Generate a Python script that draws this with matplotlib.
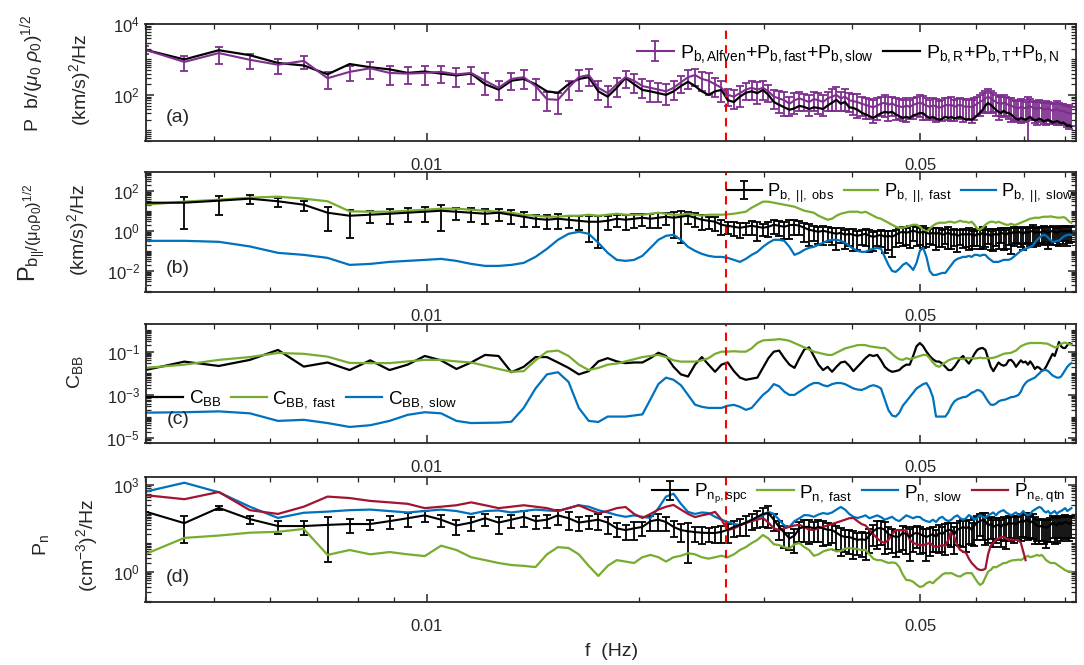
import numpy as np
import matplotlib.pyplot as plt
from matplotlib.ticker import FixedLocator, FixedFormatter, NullFormatter

plt.rcParams['font.family'] = ['Liberation Sans', 'DejaVu Sans']
plt.rcParams['mathtext.fontset'] = 'custom'
plt.rcParams['mathtext.rm'] = 'Liberation Sans'
plt.rcParams['mathtext.it'] = 'Liberation Sans:italic'
plt.rcParams['mathtext.bf'] = 'Liberation Sans:bold'

# frequency bins (Hz), linear spacing
f0 = 0.0040
df = 0.00054
n_bins = 145
freq = f0 + df * np.arange(n_bins)
f_split = 0.0265

# ---- panel (a): log10 of spectra ----
pb_modes = [
    3.27, 2.93, 3.18, 2.99, 2.85, 2.96, 2.47, 2.65, 2.75, 2.62,
    2.60, 2.62, 2.65, 2.58, 2.62, 2.40, 2.20, 2.45, 2.50, 2.25,
    1.88, 1.86, 2.20, 2.50, 2.56, 2.20, 2.05, 2.30, 2.50, 2.40,
    2.25, 2.20, 2.15, 2.10, 2.20, 2.35, 2.50, 2.56, 2.45, 2.40,
    2.30, 2.20, 2.00, 1.95, 2.05, 2.15, 2.20, 2.15, 2.20, 2.10,
    1.95, 1.90, 1.85, 1.75, 1.85, 1.90, 1.85, 1.80, 1.88, 1.85,
    1.80, 1.90, 1.95, 2.00, 1.90, 1.95, 1.85, 1.82, 1.80, 1.75,
    1.72, 1.68, 1.65, 1.70, 1.75, 1.78, 1.72, 1.76, 1.70, 1.68,
    1.65, 1.70, 1.66, 1.72, 1.75, 1.78, 1.74, 1.70, 1.66, 1.70,
    1.68, 1.64, 1.66, 1.72, 1.70, 1.72, 1.66, 1.70, 1.72, 1.68,
    1.66, 1.68, 1.65, 1.70, 1.75, 1.80, 1.85, 1.90, 1.95, 1.90,
    1.85, 1.80, 1.76, 1.74, 1.78, 1.75, 1.72, 1.70, 1.66, 1.64,
    1.62, 1.66, 1.64, 1.62, 1.66, 1.68, 1.64, 1.60, 1.62, 1.64,
    1.62, 1.58, 1.60, 1.62, 1.58, 1.55, 1.58, 1.60, 1.56, 1.54,
    1.55, 1.52, 1.48, 1.50, 1.46]
pb_modes_err = [
    0.25, 0.45, 0.50, 0.45, 0.45, 0.40, 0.50, 0.45, 0.50, 0.55,
    0.50, 0.55, 0.50, 0.55, 0.50, 0.60, 0.55, 0.50, 0.55, 0.60,
    0.55, 0.60, 0.55, 0.60, 0.50, 0.55, 0.60, 0.55, 0.50, 0.55,
    0.55, 0.60, 0.55, 0.60, 0.55, 0.50, 0.55, 0.50, 0.55, 0.60,
    0.55, 0.60, 0.50, 0.55, 0.60, 0.50, 0.55, 0.60, 0.55, 0.50,
    0.55, 0.60, 0.65, 0.55, 0.60, 0.55, 0.50, 0.60, 0.55, 0.60,
    0.60, 0.55, 0.60, 0.65, 0.55, 0.60, 0.55, 0.60, 0.65, 0.55,
    0.60, 0.55, 0.65, 0.60, 0.55, 0.60, 0.65, 0.55, 0.60, 0.55,
    0.60, 0.65, 0.55, 0.60, 0.55, 0.60, 0.65, 0.60, 0.55, 0.60,
    0.65, 0.55, 0.60, 0.55, 0.60, 0.65, 0.60, 0.55, 0.60, 0.65,
    0.55, 0.60, 0.65, 0.60, 0.55, 0.60, 0.55, 0.60, 0.65, 0.60,
    0.55, 0.60, 0.65, 0.55, 0.60, 0.55, 0.60, 0.65, 0.60, 0.55,
    0.60, 0.65, 0.60, 0.55, 0.92, 0.60, 0.55, 0.60, 0.65, 0.60,
    0.55, 0.60, 0.65, 0.55, 0.60, 0.55, 0.60, 0.65, 0.60, 0.55,
    0.60, 0.55, 0.60, 0.65, 0.55]
pb_rtn = [
    3.27, 3.00, 3.26, 3.12, 2.90, 2.83, 2.58, 2.87, 2.78, 2.72,
    2.62, 2.66, 2.60, 2.55, 2.60, 2.30, 2.15, 2.40, 2.45, 2.30,
    2.10, 2.06, 2.30, 2.45, 2.50, 2.10, 1.95, 2.20, 2.48, 2.30,
    2.14, 2.10, 2.05, 2.00, 2.10, 2.25, 2.37, 2.25, 2.10, 2.00,
    2.10, 2.14, 1.85, 1.80, 1.95, 2.06, 2.10, 2.05, 2.14, 2.00,
    1.80, 1.72, 1.65, 1.58, 1.62, 1.69, 1.66, 1.60, 1.65, 1.63,
    1.60, 1.70, 1.78, 1.86, 1.75, 1.80, 1.65, 1.63, 1.58, 1.50,
    1.45, 1.40, 1.35, 1.42, 1.48, 1.52, 1.50, 1.52, 1.45, 1.40,
    1.35, 1.38, 1.35, 1.42, 1.45, 1.49, 1.48, 1.40, 1.35, 1.38,
    1.33, 1.30, 1.32, 1.38, 1.35, 1.38, 1.33, 1.36, 1.38, 1.34,
    1.30, 1.32, 1.30, 1.35, 1.42, 1.50, 1.58, 1.70, 1.77, 1.72,
    1.65, 1.58, 1.52, 1.49, 1.55, 1.50, 1.49, 1.45, 1.38, 1.33,
    1.30, 1.35, 1.32, 1.30, 1.34, 1.38, 1.32, 1.28, 1.30, 1.33,
    1.30, 1.25, 1.28, 1.30, 1.26, 1.22, 1.24, 1.26, 1.24, 1.20,
    1.22, 1.18, 1.12, 1.15, 1.10]

# ---- panel (b) ----
pb_par_obs = [
    1.40, 1.40, 1.50, 1.60, 1.47, 1.30, 0.90, 0.75, 0.80, 0.85,
    0.90, 0.95, 1.00, 0.95, 0.90, 0.85, 0.90, 0.80, 0.70, 0.60,
    0.55, 0.60, 0.55, 0.50, 0.45, 0.45, 0.50, 0.60, 0.55, 0.60,
    0.65, 0.60, 0.65, 0.70, 0.65, 0.70, 0.75, 0.65, 0.55, 0.50,
    0.45, 0.30, 0.25, 0.20, 0.15, 0.20, 0.25, 0.20, 0.15, 0.20,
    0.30, 0.25, 0.20, 0.28, 0.30, 0.25, 0.15, 0.05, 0.00, -0.05,
    0.00, -0.05, -0.10, -0.15, -0.10, -0.20, -0.15, -0.20, -0.25, -0.20,
    -0.15, -0.25, -0.30, -0.25, -0.20, -0.30, -0.25, -0.30, -0.20, -0.10,
    -0.05, -0.10, -0.05, 0.00, -0.05, -0.10, -0.05, -0.10, -0.15, -0.10,
    -0.15, -0.10, -0.20, -0.15, -0.10, -0.20, -0.15, -0.25, -0.20, -0.15,
    -0.20, -0.15, -0.20, -0.25, -0.15, -0.20, -0.10, -0.20, -0.15, -0.25,
    -0.20, -0.15, -0.20, -0.10, -0.15, -0.20, -0.10, -0.15, -0.05, -0.10,
    -0.05, -0.10, -0.15, -0.05, -0.10, -0.05, 0.00, -0.10, -0.05, -0.10,
    -0.05, 0.00, -0.05, -0.10, -0.05, 0.00, -0.05, -0.10, -0.05, 0.00,
    -0.05, 0.00, -0.05, 0.00, -0.05]
pb_par_err = [
    0.00, 0.95, 0.80, 0.45, 0.50, 0.50, 0.88, 0.92, 0.60, 0.70,
    0.65, 0.70, 0.90, 0.60, 0.65, 0.70, 0.60, 0.65, 0.70, 0.60,
    0.65, 0.70, 0.60, 0.65, 0.90, 0.95, 0.65, 0.60, 0.70, 0.65,
    0.60, 0.65, 0.70, 0.60, 0.90, 0.95, 0.60, 0.65, 0.70, 0.60,
    0.65, 0.70, 0.60, 0.65, 0.70, 0.60, 0.65, 0.80, 0.60, 0.70,
    0.65, 0.70, 0.75, 0.80, 0.70, 0.65, 0.80, 0.85, 0.70, 0.75,
    0.80, 0.70, 0.75, 0.85, 0.70, 0.80, 0.75, 0.85, 0.80, 0.70,
    0.75, 0.85, 0.80, 0.70, 0.75, 0.85, 0.80, 0.90, 0.75, 0.70,
    0.80, 0.75, 0.85, 0.70, 0.80, 0.75, 0.85, 0.80, 0.70, 0.75,
    0.85, 0.80, 0.75, 0.70, 0.85, 0.80, 0.75, 0.85, 0.70, 0.80,
    0.75, 0.85, 0.80, 0.70, 0.75, 0.80, 0.85, 0.75, 0.70, 0.80,
    0.85, 0.75, 0.80, 0.70, 0.85, 0.80, 0.75, 0.90, 0.80, 0.70,
    0.75, 0.80, 0.85, 0.75, 0.70, 0.80, 0.85, 0.75, 0.80, 0.70,
    0.75, 0.80, 0.70, 0.85, 0.75, 0.80, 0.70, 0.75, 0.80, 0.70,
    0.75, 0.70, 0.80, 0.75, 0.70]
pb_par_fast = [
    1.30, 1.45, 1.55, 1.65, 1.70, 1.60, 1.47, 0.97, 0.95, 0.95,
    1.00, 1.05, 1.10, 1.10, 1.05, 1.00, 0.95, 0.90, 0.80, 0.75,
    0.70, 0.70, 0.75, 0.75, 0.80, 0.75, 0.80, 0.85, 0.80, 0.80,
    0.80, 0.85, 0.90, 0.85, 0.80, 0.80, 0.85, 0.80, 0.75, 0.80,
    0.80, 0.80, 0.82, 0.85, 0.90, 0.95, 1.15, 1.30, 1.45, 1.45,
    1.40, 1.35, 1.30, 1.25, 1.20, 1.10, 1.00, 0.95, 0.90, 0.75,
    0.65, 0.55, 0.60, 0.75, 0.85, 0.90, 0.95, 0.95, 0.95, 0.90,
    0.95, 0.85, 0.75, 0.65, 0.60, 0.50, 0.40, 0.30, 0.20, 0.15,
    0.15, 0.20, 0.25, 0.30, 0.30, 0.20, 0.05, -0.05, 0.10, 0.25,
    0.35, 0.40, 0.40, 0.40, 0.45, 0.45, 0.40, 0.45, 0.50, 0.45,
    0.45, 0.40, 0.45, 0.30, 0.10, 0.05, 0.15, 0.30, 0.40, 0.45,
    0.45, 0.40, 0.45, 0.40, 0.35, 0.30, 0.30, 0.35, 0.30, 0.30,
    0.35, 0.40, 0.45, 0.50, 0.55, 0.60, 0.62, 0.65, 0.65, 0.65,
    0.68, 0.70, 0.70, 0.70, 0.72, 0.70, 0.68, 0.66, 0.65, 0.66,
    0.68, 0.65, 0.55, 0.45, 0.40]
pb_par_slow = [
    -0.50, -0.50, -0.55, -0.78, -1.10, -1.20, -1.35, -1.70, -1.65, -1.55,
    -1.50, -1.45, -1.40, -1.50, -1.65, -1.75, -1.75, -1.70, -1.60, -1.30,
    -0.90, -0.45, -0.15, -0.05, -0.15, -0.60, -1.10, -1.45, -1.50, -1.45,
    -1.25, -0.85, -0.45, -0.25, -0.20, -0.45, -0.80, -1.00, -1.15, -1.25,
    -1.30, -1.30, -1.35, -1.45, -1.55, -1.40, -1.20, -1.05, -0.80, -0.60,
    -0.45, -0.45, -0.50, -0.80, -1.20, -1.10, -0.95, -0.85, -0.80, -0.70,
    -0.60, -0.50, -0.45, -0.45, -0.50, -0.60, -0.75, -0.90, -1.00, -1.05,
    -1.05, -0.95, -0.90, -0.85, -0.90, -1.30, -1.70, -2.00, -2.05, -1.90,
    -1.70, -1.60, -1.75, -1.95, -1.60, -1.00, -0.85, -1.30, -2.00, -2.20,
    -2.20, -2.15, -2.10, -2.10, -1.90, -1.70, -1.50, -1.40, -1.35, -1.30,
    -1.30, -1.25, -1.30, -1.20, -1.20, -1.25, -1.20, -1.20, -1.35, -1.45,
    -1.55, -1.55, -1.55, -1.50, -1.45, -1.45, -1.45, -1.40, -1.30, -1.20,
    -1.10, -1.00, -0.95, -0.90, -0.85, -0.80, -0.75, -0.60, -0.45, -0.35,
    -0.25, -0.20, -0.25, -0.35, -0.45, -0.55, -0.55, -0.50, -0.50, -0.40,
    -0.30, -0.25, -0.20, -0.20, -0.20]

# ---- panel (c) ----
cbb = [
    -1.85, -1.46, -1.66, -1.38, -0.92, -1.69, -1.50, -1.85, -1.40, -1.85,
    -1.60, -1.20, -1.40, -1.80, -1.50, -1.15, -1.20, -1.95, -1.70, -1.25,
    -1.25, -1.50, -1.75, -2.05, -1.90, -1.45, -1.30, -1.45, -1.53, -1.50,
    -1.50, -1.30, -1.05, -1.20, -1.70, -2.05, -2.15, -1.60, -1.25, -1.60,
    -1.93, -1.60, -1.50, -1.90, -2.20, -2.30, -2.25, -2.20, -1.75, -1.30,
    -1.00, -0.95, -1.30, -1.60, -1.75, -1.30, -0.90, -0.80, -1.20, -1.60,
    -1.85, -1.70, -1.93, -1.70, -1.50, -1.46, -1.65, -1.90, -1.70, -1.50,
    -1.30, -1.15, -1.20, -1.15, -1.40, -1.70, -1.85, -1.93, -1.90, -1.85,
    -1.70, -1.60, -1.60, -1.20, -0.75, -0.60, -0.75, -1.00, -1.20, -1.35,
    -1.45, -1.46, -1.55, -1.70, -1.85, -1.85, -1.70, -1.50, -1.30, -1.20,
    -1.40, -1.55, -1.35, -1.10, -0.92, -0.85, -0.83, -0.92, -1.30, -1.70,
    -1.90, -1.70, -1.50, -1.60, -1.65, -1.60, -1.40, -1.38, -1.50, -1.70,
    -1.55, -1.40, -1.50, -1.46, -1.60, -1.45, -1.60, -1.80, -1.70, -1.75,
    -1.85, -1.85, -1.70, -1.50, -1.30, -1.10, -1.20, -0.90, -0.55, -0.75,
    -0.83, -0.83, -0.70, -0.60, -0.65]
cbb_fast = [
    -1.75, -1.60, -1.38, -1.25, -1.06, -1.10, -1.23, -1.52, -1.53, -1.53,
    -1.45, -1.38, -1.38, -1.45, -1.50, -1.65, -1.80, -1.93, -1.90, -1.40,
    -1.00, -0.95, -1.20, -1.60, -1.85, -1.75, -1.60, -1.55, -1.45, -1.35,
    -1.25, -1.20, -1.15, -1.25, -1.40, -1.46, -1.46, -1.46, -1.40, -1.30,
    -1.10, -1.00, -1.00, -0.98, -1.00, -1.00, -0.85, -0.60, -0.48, -0.46,
    -0.45, -0.42, -0.45, -0.50, -0.60, -0.70, -0.80, -0.90, -1.00, -1.05,
    -1.10, -1.15, -1.15, -1.05, -0.95, -0.85, -0.80, -0.75, -0.70, -0.69,
    -0.70, -0.75, -0.78, -0.80, -0.83, -0.83, -0.95, -1.10, -1.25, -1.35,
    -1.38, -1.30, -1.35, -1.30, -1.25, -1.20, -1.15, -1.15, -1.30, -1.50,
    -1.65, -1.70, -1.60, -1.50, -1.40, -1.35, -1.30, -1.30, -1.32, -1.35,
    -1.30, -1.30, -1.30, -1.32, -1.30, -1.28, -1.30, -1.30, -1.30, -1.30,
    -1.28, -1.25, -1.20, -1.15, -1.10, -1.08, -1.07, -1.05, -1.00, -0.95,
    -0.85, -0.75, -0.70, -0.65, -0.62, -0.60, -0.60, -0.60, -0.60, -0.60,
    -0.60, -0.62, -0.62, -0.65, -0.70, -0.75, -0.80, -0.80, -0.70, -0.65,
    -0.60, -0.58, -0.62, -0.65, -0.68]
cbb_slow = [
    -3.82, -3.80, -3.76, -3.85, -4.20, -4.15, -4.30, -4.48, -4.40, -4.20,
    -3.92, -3.80, -3.85, -4.20, -4.30, -4.29, -4.28, -4.24, -3.60, -2.70,
    -2.05, -1.95, -2.40, -3.60, -4.20, -4.25, -4.00, -4.00, -4.00, -3.95,
    -3.90, -3.20, -2.50, -2.20, -2.30, -2.55, -3.00, -3.45, -3.55, -3.60,
    -3.60, -3.60, -3.50, -3.46, -3.55, -3.69, -3.60, -3.30, -3.00, -2.80,
    -2.50, -2.60, -2.85, -3.00, -3.00, -2.85, -2.70, -2.55, -2.45, -2.45,
    -2.55, -2.60, -2.50, -2.45, -2.45, -2.50, -2.60, -2.70, -2.75, -2.77,
    -2.70, -2.60, -2.55, -2.60, -2.70, -3.20, -3.70, -3.95, -4.00, -3.83,
    -3.50, -3.30, -3.10, -2.90, -2.70, -2.60, -2.50, -2.45, -2.70, -3.10,
    -4.00, -4.00, -4.00, -4.00, -3.80, -3.50, -3.30, -3.20, -3.15, -3.10,
    -3.09, -3.00, -2.90, -2.85, -2.77, -2.80, -2.90, -3.10, -3.30, -3.45,
    -3.46, -3.40, -3.30, -3.25, -3.23, -3.20, -3.15, -3.10, -3.09, -3.05,
    -3.00, -2.85, -2.60, -2.45, -2.35, -2.30, -2.25, -2.20, -2.10, -2.00,
    -1.90, -1.85, -1.85, -1.90, -2.00, -2.10, -2.15, -2.20, -2.20, -2.15,
    -2.00, -1.85, -1.70, -1.60, -1.53]

# ---- panel (d) ----
pn_spc = [
    2.08, 1.68, 2.21, 1.82, 1.58, 1.58, 1.62, 1.65, 1.65, 1.75,
    1.85, 1.95, 1.80, 1.60, 1.70, 1.85, 1.70, 1.80, 1.90, 1.75,
    1.80, 1.95, 1.85, 1.70, 1.75, 1.80, 1.70, 1.50, 1.44, 1.50,
    1.55, 1.75, 1.80, 1.72, 1.55, 1.44, 1.40, 1.37, 1.35, 1.34,
    1.34, 1.38, 1.45, 1.55, 1.62, 1.70, 1.79, 1.90, 2.00, 2.03,
    1.80, 1.55, 1.35, 1.15, 1.25, 1.50, 1.55, 1.55, 1.50, 1.55,
    1.50, 1.45, 1.44, 1.35, 1.25, 1.20, 1.20, 1.15, 1.10, 1.12,
    1.10, 1.25, 1.40, 1.50, 1.51, 1.45, 1.30, 1.25, 1.20, 1.22,
    1.35, 1.30, 1.20, 1.30, 1.35, 1.30, 1.25, 1.20, 1.25, 1.30,
    1.20, 1.35, 1.30, 1.40, 1.45, 1.44, 1.30, 1.45, 1.50, 1.55,
    1.50, 1.55, 1.45, 1.60, 1.70, 1.75, 1.79, 1.75, 1.60, 1.65,
    1.55, 1.60, 1.62, 1.55, 1.65, 1.60, 1.70, 1.65, 1.68, 1.65,
    1.70, 1.75, 1.72, 1.78, 1.79, 1.70, 1.75, 1.65, 1.60, 1.55,
    1.60, 1.55, 1.52, 1.55, 1.62, 1.70, 1.65, 1.60, 1.70, 1.65,
    1.68, 1.72, 1.70, 1.65, 1.70]
pn_spc_err = [
    0.00, 0.80, 0.15, 0.30, 0.45, 0.50, 0.95, 0.50, 0.40, 0.45,
    0.50, 0.40, 0.45, 0.55, 0.50, 0.45, 0.60, 0.50, 0.55, 0.45,
    0.50, 0.55, 0.60, 0.50, 0.45, 0.55, 0.60, 0.50, 0.55, 0.60,
    0.50, 0.55, 0.60, 0.50, 0.55, 0.60, 0.92, 0.55, 0.60, 0.50,
    0.55, 0.60, 0.65, 0.55, 0.60, 0.65, 0.55, 0.60, 0.65, 0.70,
    0.60, 0.65, 0.70, 0.60, 0.75, 0.65, 0.70, 0.75, 0.65, 0.70,
    0.75, 0.70, 0.65, 0.75, 0.80, 0.70, 0.75, 0.80, 0.70, 0.75,
    0.80, 0.75, 0.70, 0.80, 0.75, 0.85, 0.70, 0.75, 0.80, 0.70,
    0.75, 0.80, 0.85, 0.75, 0.70, 0.80, 0.75, 0.85, 0.80, 0.75,
    0.70, 0.80, 0.75, 0.85, 0.70, 0.75, 0.80, 0.70, 0.75, 0.80,
    0.85, 0.75, 0.70, 0.80, 0.75, 0.70, 0.80, 0.85, 0.75, 0.70,
    0.80, 0.75, 0.70, 0.80, 0.75, 0.85, 0.70, 0.75, 0.80, 0.70,
    0.75, 0.80, 0.70, 0.75, 0.80, 0.70, 0.75, 0.80, 0.70, 0.75,
    0.70, 0.75, 0.80, 0.70, 0.75, 0.70, 0.80, 0.75, 0.70, 0.75,
    0.70, 0.75, 0.70, 0.75, 0.70]
pn_fast = [
    0.61, 1.17, 1.25, 1.35, 1.38, 1.48, 0.58, 0.75, 0.60, 0.68,
    0.60, 0.54, 0.90, 0.75, 0.50, 0.40, 0.30, 0.23, 0.20, 0.16,
    0.60, 0.85, 0.82, 0.60, 0.20, -0.15, 0.20, 0.40, 0.35, 0.30,
    0.50, 0.58, 0.50, 0.35, 0.50, 0.55, 0.64, 0.60, 0.50, 0.45,
    0.50, 0.55, 0.50, 0.60, 0.75, 0.85, 0.99, 1.10, 1.27, 1.15,
    0.95, 0.92, 0.85, 0.80, 0.95, 0.99, 0.85, 0.75, 0.55, 0.60,
    0.70, 0.75, 0.78, 0.70, 0.72, 0.80, 0.82, 0.80, 0.78, 0.75,
    0.75, 0.60, 0.45, 0.40, 0.40, 0.35, 0.30, 0.32, 0.30, 0.16,
    -0.10, -0.29, -0.30, -0.35, -0.45, -0.53, -0.50, -0.40, -0.35, -0.40,
    -0.29, -0.20, -0.10, -0.05, -0.06, -0.05, -0.10, -0.15, -0.17, -0.10,
    -0.05, -0.05, -0.05, -0.20, -0.35, -0.46, -0.40, -0.20, 0.00, 0.06,
    0.16, 0.15, 0.20, 0.25, 0.30, 0.30, 0.35, 0.38, 0.40, 0.40,
    0.42, 0.40, 0.45, 0.50, 0.55, 0.50, 0.52, 0.55, 0.58, 0.55,
    0.58, 0.50, 0.40, 0.35, 0.30, 0.30, 0.30, 0.25, 0.20, 0.15,
    0.10, 0.05, 0.02, 0.00, 0.00]
pn_slow = [
    2.77, 3.08, 2.75, 2.25, 1.86, 2.04, 2.08, 2.13, 2.15, 2.10,
    2.05, 2.10, 2.15, 2.10, 2.00, 2.10, 2.12, 2.05, 2.10, 2.15,
    2.12, 2.10, 2.20, 2.30, 2.25, 2.13, 2.05, 1.96, 1.90, 1.95,
    1.90, 1.86, 2.20, 2.60, 2.70, 2.35, 2.07, 2.00, 2.05, 2.03,
    1.90, 1.80, 1.72, 1.65, 1.62, 1.70, 1.80, 1.86, 1.95, 2.07,
    2.00, 1.80, 1.60, 1.55, 1.75, 1.85, 1.96, 1.95, 1.90, 1.98,
    2.03, 2.00, 2.05, 2.15, 2.24, 2.15, 2.00, 1.90, 1.86, 1.90,
    1.95, 1.85, 1.90, 1.95, 1.89, 1.80, 1.85, 1.90, 1.80, 1.75,
    1.85, 1.95, 1.90, 1.85, 1.90, 1.89, 1.80, 1.75, 1.72, 1.80,
    1.72, 1.85, 1.90, 1.80, 1.75, 1.80, 1.90, 1.95, 1.85, 1.80,
    1.85, 1.96, 1.90, 1.80, 1.86, 1.95, 1.90, 1.86, 1.95, 2.00,
    2.05, 1.95, 2.05, 2.10, 2.13, 2.05, 2.00, 1.95, 2.00, 2.05,
    1.96, 2.00, 2.10, 2.00, 1.95, 2.00, 2.10, 2.15, 2.20, 2.24,
    2.20, 2.10, 2.05, 2.10, 2.00, 2.05, 2.10, 2.00, 2.07, 2.10,
    2.15, 2.20, 2.10, 2.15, 2.20]
pn_qtn = [
    2.65, 2.51, 2.76, 2.13, 2.00, 2.25, 2.60, 2.55, 2.45, 2.40,
    2.35, 2.20, 2.25, 2.30, 2.40, 2.30, 2.20, 2.25, 2.30, 2.25,
    2.20, 2.10, 2.20, 2.30, 2.15, 2.03, 2.10, 2.20, 2.24, 2.00,
    1.86, 2.00, 2.15, 2.25, 2.31, 2.15, 2.00, 1.89, 1.95, 2.00,
    2.07, 1.80, 1.44, 1.50, 1.60, 1.68, 1.75, 1.80, 1.86, 1.70,
    1.50, 1.44, 1.50, 1.55, 1.60, 1.62, 1.55, 1.45, 1.45, 1.50,
    1.55, 1.60, 1.65, 1.70, 1.75, 1.80, 1.85, 1.86, 1.75, 1.65,
    1.60, 1.45, 1.30, 1.15, 1.05, 0.99, 1.10, 1.30, 1.44, 1.44,
    1.42, 1.44, 1.10, 1.00, 0.95, 0.92, 0.92, 0.95, 1.00, 0.90,
    0.85, 0.88, 0.92, 0.90, 1.10, 1.44, 1.20, 0.90, 0.75, 0.70,
    0.65, 0.45, 0.30, 0.20, 0.10, 0.06, 0.06, 0.10, 0.60, 0.90,
    0.99, 1.10, 1.15, 1.20, 1.20, 1.15, 1.10, 1.12, 1.10, 1.10,
    1.10, 1.00, 0.70, 0.40]

purple = '#7E2F8E'
green = '#77AC30'
blue = '#0072BD'
red = '#A2142F'
fs = 13


def lin(v):
    return 10 ** np.array(v)


def ebar(ax, vals, rel, color, label):
    y = lin(vals)
    return ax.errorbar(freq[:len(y)], y, yerr=np.array(rel) * y, color=color, lw=1.5,
                       elinewidth=1.3, capsize=3, capthick=1.3, label=label)


def line(ax, vals, color, label):
    y = lin(vals)
    return ax.plot(freq[:len(y)], y, color=color, lw=1.6, label=label)[0]


def style(ax, ylim, yticks):
    ax.set_xscale('log')
    ax.set_yscale('log')
    ax.set_xlim(0.004, 0.083)
    ax.set_ylim(*ylim)
    ax.xaxis.set_major_locator(FixedLocator([0.01, 0.05]))
    ax.xaxis.set_major_formatter(FixedFormatter(['0.01', '0.05']))
    ax.xaxis.set_minor_locator(FixedLocator([0.004, 0.005, 0.006, 0.007, 0.008, 0.009,
                                             0.02, 0.03, 0.04, 0.06, 0.07, 0.08]))
    ax.xaxis.set_minor_formatter(NullFormatter())
    ax.yaxis.set_major_locator(FixedLocator(yticks))
    ax.yaxis.set_major_formatter(FixedFormatter(
        [r'$10^{%d}$' % int(round(np.log10(t))) for t in yticks]))
    minors = [m * 10.0 ** e for e in range(-7, 5) for m in range(1, 10)]
    ax.yaxis.set_minor_locator(FixedLocator([m for m in minors if m not in yticks]))
    ax.yaxis.set_minor_formatter(NullFormatter())
    ax.tick_params(which='both', direction='in', top=True, right=True,
                   labelsize=12, colors='#262626', labelcolor='#262626')
    ax.tick_params(which='major', length=6, width=1.1, pad=12)
    ax.tick_params(axis='y', which='major', pad=4)
    ax.tick_params(which='minor', length=3.5, width=0.9)
    for s in ax.spines.values():
        s.set_linewidth(1.3)
        s.set_color('#262626')
    ax.axvline(f_split, color='r', ls='--', lw=1.5, dashes=(4, 3))


W, H = 1084, 665
fig = plt.figure(figsize=(W / 100, H / 100), dpi=100)
left = 145.5 / W
width = (1076 - 145.5) / W


def box(top, bottom):
    return [left, 1 - bottom / H, width, (bottom - top) / H]


ax_a = fig.add_axes(box(24, 141))
ax_b = fig.add_axes(box(172, 292))
ax_c = fig.add_axes(box(324, 443))
ax_d = fig.add_axes(box(477, 602))

# (a)
h_a = [ebar(ax_a, pb_modes, pb_modes_err, purple,
            r'$\mathregular{P_{b,Alfven}{+}P_{b,fast}{+}P_{b,slow}}$'),
       line(ax_a, pb_rtn, 'k', r'$\mathregular{P_{b,R}{+}P_{b,T}{+}P_{b,N}}$')]
style(ax_a, (5.0, 1e4), [1e2, 1e4])

# (b)
h_b = [ebar(ax_b, pb_par_obs, pb_par_err, 'k', r'$\mathregular{P_{b,\ ||,\ obs}}$'),
       line(ax_b, pb_par_fast, green, r'$\mathregular{P_{b,\ ||,\ fast}}$'),
       line(ax_b, pb_par_slow, blue, r'$\mathregular{P_{b,\ ||,\ slow}}$')]
style(ax_b, (8.9e-4, 8.5e2), [1e-2, 1e0, 1e2])

# (c)
h_c = [line(ax_c, cbb, 'k', r'$\mathregular{C_{BB}}$'),
       line(ax_c, cbb_fast, green, r'$\mathregular{C_{BB,\ fast}}$'),
       line(ax_c, cbb_slow, blue, r'$\mathregular{C_{BB,\ slow}}$')]
style(ax_c, (6e-6, 1.9), [1e-5, 1e-3, 1e-1])

# (d)
h_d = [ebar(ax_d, pn_spc, pn_spc_err, 'k', r'$\mathregular{P_{n_p,spc}}$'),
       line(ax_d, pn_fast, green, r'$\mathregular{P_{n,\ fast}}$'),
       line(ax_d, pn_slow, blue, r'$\mathregular{P_{n,\ slow}}$'),
       line(ax_d, pn_qtn, red, r'$\mathregular{P_{n_e,qtn}}$')]
style(ax_d, (0.089, 1900), [1e0, 1e3])

leg_kw = dict(frameon=False, loc='center left', borderpad=0,
              borderaxespad=0, handletextpad=0.3, columnspacing=0.5,
              handlelength=1.9, bbox_transform=fig.transFigure)
ax_a.legend(handles=h_a, ncol=2, fontsize=14, bbox_to_anchor=(637 / W, 1 - 54 / H), **leg_kw)
ax_b.legend(handles=h_b, ncol=3, fontsize=13.2, bbox_to_anchor=(727 / W, 1 - 193 / H), **leg_kw)
ax_c.legend(handles=h_c, ncol=3, fontsize=13.6, bbox_to_anchor=(147 / W, 1 - 399 / H), **leg_kw)
ax_d.legend(handles=h_d, ncol=4, fontsize=13.7, bbox_to_anchor=(652 / W, 1 - 494 / H), **leg_kw)

# panel letters
for ax, lab in [(ax_a, '(a)'), (ax_b, '(b)'), (ax_c, '(c)'), (ax_d, '(d)')]:
    ax.text(0.035, 0.2, lab, transform=ax.transAxes, fontsize=fs + 1,
            ha='center', va='center', color='#262626')

# y labels
yl = dict(rotation=90, ha='center', va='center', fontsize=fs + 1, color='#262626')
fig.text(32 / W, 1 - 74 / H, r'P  b/$(\mu_0\ \rho_0)^{1/2}$', **yl)
fig.text(80 / W, 1 - 80 / H, r'(km/s)$^2$/Hz', **yl)
fig.text(32 / W, 1 - 233 / H, r'$\mathregular{P_{b_{||}/(\mu_0\rho_0)^{1/2}}}$',
         rotation=90, ha='center', va='center', fontsize=fs + 4, color='#262626')
fig.text(78 / W, 1 - 230 / H, r'(km/s)$^2$/Hz', **yl)
fig.text(75 / W, 1 - 372 / H, r'$\mathregular{C_{BB}}$', **yl)
fig.text(41 / W, 1 - 545 / H, r'$\mathregular{P_n}$', **yl)
fig.text(87 / W, 1 - 545 / H, r'(cm$^{-3}$)$^2$/Hz', **yl)

fig.text(612 / W, 1 - 652 / H, 'f  (Hz)', ha='center', va='center',
         fontsize=fs + 1, color='#262626')

fig.savefig('out.png', dpi=100)
